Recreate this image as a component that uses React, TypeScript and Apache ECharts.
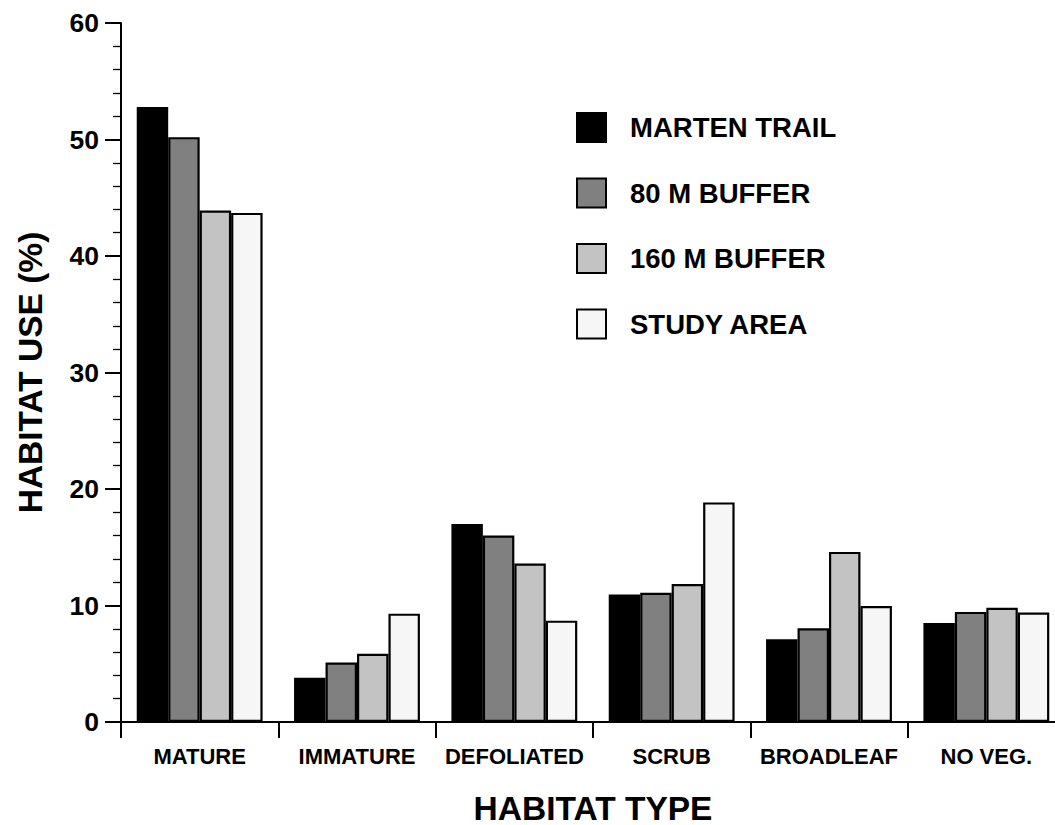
import React, { useEffect, useRef } from "react";
import * as echarts from "echarts";

const categories = ["MATURE", "IMMATURE", "DEFOLIATED", "SCRUB", "BROADLEAF", "NO VEG."];
const seriesNames = ["MARTEN TRAIL", "80 M BUFFER", "160 M BUFFER", "STUDY AREA"];
const martenTrail = [52.8, 3.8, 17.0, 10.95, 7.1, 8.5];
const buffer80 = [50.2, 5.1, 16.0, 11.1, 8.05, 9.45];
const buffer160 = [43.9, 5.85, 13.6, 11.85, 14.6, 9.8];
const studyArea = [43.7, 9.3, 8.7, 18.85, 9.95, 9.4];
const fills = ["#000000", "#808080", "#c3c3c3", "#f6f6f6"];

const FONT = "'Liberation Sans', Arial, Helvetica, sans-serif";

export default function App() {
  const ref = useRef<HTMLDivElement>(null);
  useEffect(() => {
    if (!ref.current) return;
    const chart = echarts.init(ref.current, undefined, { renderer: "svg" });
    const dataSets = [martenTrail, buffer80, buffer160, studyArea];
    chart.setOption({
      animation: false,
      backgroundColor: "#ffffff",
      grid: {
        left: 121,
        top: 23,
        bottom: 103,
        right: -10,
        containLabel: false,
        outerBoundsMode: "none",
      },
      legend: {
        orient: "vertical",
        left: 576,
        top: 112,
        padding: 0,
        icon: "rect",
        itemWidth: 29,
        itemHeight: 29,
        itemGap: 34.5,
        textStyle: { fontFamily: FONT, fontWeight: "bold", fontSize: 27.5, color: "#000", padding: [0, 0, 0, 19] },
        data: seriesNames,
      },
      xAxis: {
        type: "category",
        data: categories,
        boundaryGap: true,
        name: "HABITAT TYPE",
        nameLocation: "middle",
        nameGap: 72,
        nameTextStyle: { fontFamily: FONT, fontWeight: "bold", fontSize: 33.5, lineHeight: 28, color: "#000" },
        axisLine: { lineStyle: { color: "#000", width: 2 } },
        axisTick: { show: true, length: 16, lineStyle: { color: "#000", width: 2 } },
        axisLabel: { fontFamily: FONT, fontWeight: "bold", fontSize: 22, color: "#000", margin: 23, interval: 0 },
        splitLine: { show: false },
      },
      yAxis: {
        type: "value",
        min: 0,
        max: 60,
        interval: 10,
        name: "HABITAT USE (%)",
        nameLocation: "middle",
        nameGap: 74,
        nameTextStyle: { fontFamily: FONT, fontWeight: "bold", fontSize: 33.5, color: "#000" },
        axisLine: { show: true, lineStyle: { color: "#000", width: 2 } },
        axisTick: { show: true, length: 16, lineStyle: { color: "#000", width: 2 } },
        minorTick: { show: true, splitNumber: 5, length: 8, lineStyle: { color: "#000", width: 1.3 } },
        axisLabel: { fontFamily: FONT, fontWeight: "bold", fontSize: 26.5, color: "#000", margin: 22 },
        splitLine: { show: false },
      },
      series: seriesNames.map((name, i) => ({
        name,
        type: "bar",
        data: dataSets[i],
        barGap: "0%",
        barCategoryGap: "20%",
        itemStyle: { color: fills[i], borderColor: "#000", borderWidth: 2.2 },
      })),
    });
    return () => chart.dispose();
  }, []);
  return (
    <div
      ref={ref}
      style={{ position: "absolute", left: 0, top: 0, width: 1055, height: 825, overflow: "hidden" }}
    />
  );
}
